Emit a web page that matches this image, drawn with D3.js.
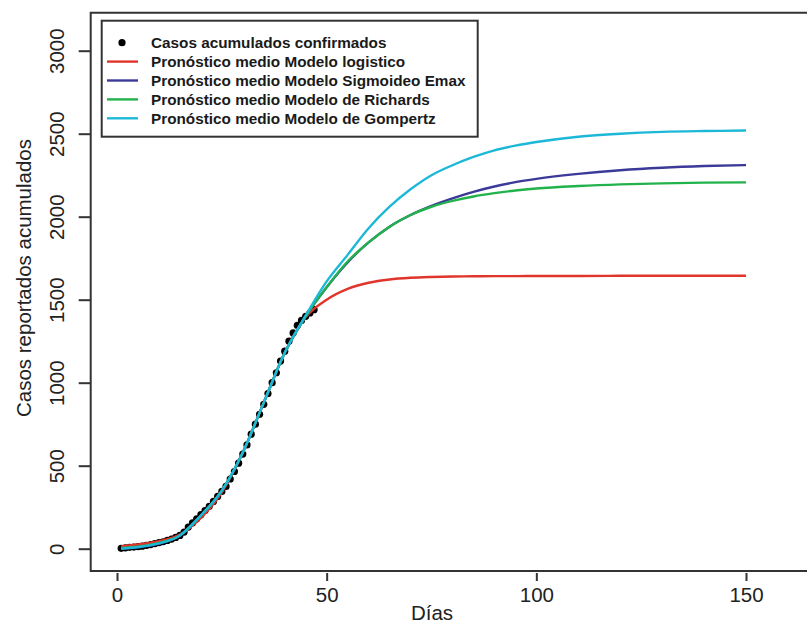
<!DOCTYPE html>
<html>
<head>
<meta charset="utf-8">
<script src="https://cdnjs.cloudflare.com/ajax/libs/d3/7.8.5/d3.min.js"></script>
<style>
  html, body { margin: 0; padding: 0; background: #fff; }
  svg { display: block; font-family: "Liberation Sans", Arial, sans-serif; }
</style>
</head>
<body>
<svg id="chart" width="807" height="629"></svg>
<script>
// ---- Data ----
const obsDays = [1,2,3,4,5,6,7,8,9,10,11,12,13,14,15,16,17,18,19,20,21,22,23,24,25,26,27,28,29,30,31,32,33,34,35,36,37,38,39,40,41,42,43,44,45,46,47];
const obsCases = [2,5,8,10,12,15,20,25,30,36,42,50,58,68,80,100,130,155,180,205,230,255,285,315,345,375,420,465,515,570,625,690,750,810,870,935,1000,1060,1130,1190,1250,1300,1345,1375,1400,1420,1440];

const fcDays = [1,5,10,15,20,25,30,35,40,45,50,55,60,65,70,75,80,85,90,95,100,110,120,130,140,150];
const logistico = [15,25,45,85,185,340,580,880,1180,1395,1500,1565,1602,1622,1632,1637,1640,1641,1642,1642,1643,1643,1644,1644,1644,1644];
const emax      = [0,8,30,80,200,350,580,880,1180,1400,1575,1725,1845,1940,2010,2065,2110,2150,2182,2208,2228,2258,2280,2295,2305,2311];
const richards  = [5,12,35,80,200,350,580,880,1180,1400,1575,1730,1845,1940,2010,2060,2095,2122,2142,2158,2170,2185,2195,2201,2205,2207];
const gompertz  = [0,10,32,80,200,350,580,880,1180,1405,1610,1770,1930,2060,2165,2250,2310,2360,2400,2428,2450,2482,2500,2511,2516,2519];

const xTicks = [0,50,100,150];
const yTicks = [0,500,1000,1500,2000,2500,3000];

const seriesNames = ["Casos acumulados confirmados","Pronóstico medio Modelo logistico","Pronóstico medio Modelo Sigmoideo Emax","Pronóstico medio Modelo de Richards","Pronóstico medio Modelo de Gompertz"];
const seriesColors = ["#000000","#e0352b","#3b3a98","#22b24c","#1db8d8"];

// ---- Chart ----
const svg = d3.select("#chart");
const x = d3.scaleLinear().domain([0,150]).range([117,746]);
const y = d3.scaleLinear().domain([0,3000]).range([548.7,50.7]);

const fcSeries = [logistico, emax, richards, gompertz];
const line = d3.line().x(d => x(d[0])).y(d => y(d[1])).curve(d3.curveMonotoneX);

// points
svg.append("g").selectAll("circle").data(obsDays.map((d,i)=>[d,obsCases[i]]))
  .join("circle").attr("cx", d=>x(d[0])).attr("cy", d=>y(d[1])).attr("r", 3.6).attr("fill", "#000");

// forecast lines
fcSeries.forEach((s,i) => {
  svg.append("path").datum(fcDays.map((d,j)=>[d,s[j]]))
    .attr("d", line).attr("fill","none").attr("stroke", seriesColors[i+1]).attr("stroke-width", 2.4);
});

// frame
svg.append("path").attr("d", "M815,12.7 H90.7 V571 H815").attr("fill","none").attr("stroke","#333").attr("stroke-width",2);

// x axis
const xa = svg.append("g").attr("transform","translate(0,573)")
  .call(d3.axisBottom(x).tickValues(xTicks).tickSize(8).tickFormat(d3.format("d")));
xa.select(".domain").remove();
xa.selectAll("line").attr("stroke","#333").attr("stroke-width",2);
xa.selectAll("text").attr("font-size","20.5px").attr("fill","#222").attr("font-family","Liberation Sans, Arial, sans-serif").attr("dy",null).attr("y",29);

// y axis
const ya = svg.append("g").attr("transform","translate(90.7,0)")
  .call(d3.axisLeft(y).tickValues(yTicks).tickSize(12).tickFormat(d3.format("d")));
ya.select(".domain").remove();
ya.selectAll("line").attr("stroke","#333").attr("stroke-width",2);
ya.selectAll("text").attr("font-size","20.5px").attr("fill","#222").attr("font-family","Liberation Sans, Arial, sans-serif")
  .attr("x",null).attr("dy",null).attr("text-anchor","middle")
  .attr("transform","translate(-26.5,0) rotate(-90)");

// axis titles
svg.append("text").attr("x",432).attr("y",620).attr("text-anchor","middle").attr("font-size","20.5px").attr("fill","#222").text("Días");
svg.append("text").attr("transform","translate(31,278) rotate(-90)").attr("text-anchor","middle").attr("font-size","20.5px").attr("fill","#222").text("Casos reportados acumulados");

// legend
const lg = svg.append("g");
lg.append("rect").attr("x",101.7).attr("y",20.7).attr("width",376).attr("height",116).attr("fill","#fff").attr("stroke","#333").attr("stroke-width",2);
seriesNames.forEach((name,i) => {
  const cy = 42.7 + i*18.9;
  if (i === 0) {
    lg.append("circle").attr("cx",122).attr("cy",cy).attr("r",3.6).attr("fill","#000");
  } else {
    lg.append("line").attr("x1",107).attr("x2",138).attr("y1",cy).attr("y2",cy).attr("stroke",seriesColors[i]).attr("stroke-width",2.4);
  }
  lg.append("text").attr("x",151).attr("y",cy+5.5).attr("font-size","15.3px").attr("font-weight","bold").attr("fill","#1a1a1a").text(name);
});
</script>
</body>
</html>
